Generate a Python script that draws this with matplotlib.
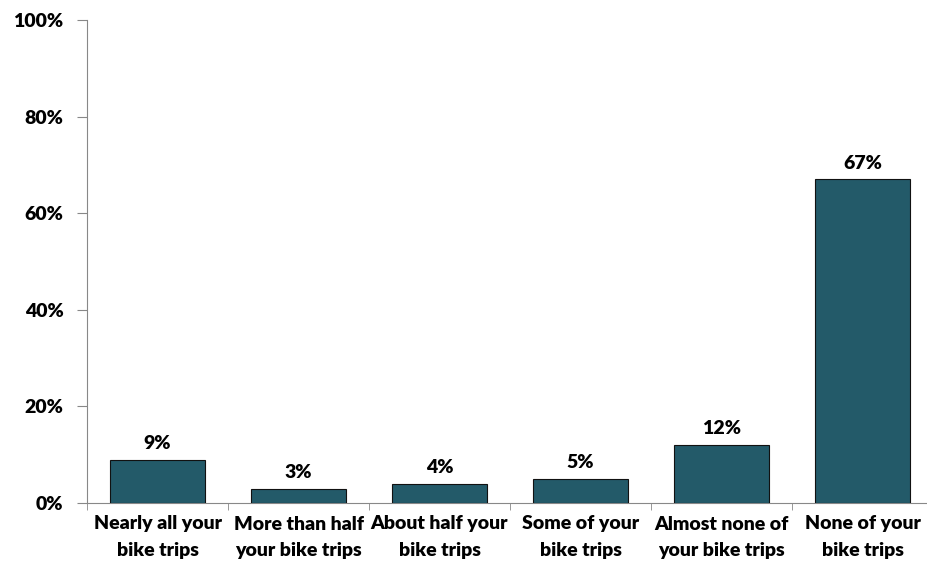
import numpy as np
import matplotlib.pyplot as plt
from matplotlib.ticker import FuncFormatter

categories = ["Nearly all your\nbike trips", "More than half\nyour bike trips",
              "About half your\nbike trips", "Some of your\nbike trips",
              "Almost none of\nyour bike trips", "None of your\nbike trips"]
values = [9, 3, 4, 5, 12, 67]
yticks = [0, 20, 40, 60, 80, 100]

plt.rcParams['font.family'] = ['Lato', 'DejaVu Sans']
plt.rcParams['font.weight'] = 'heavy'

W, H = 927, 571
fig = plt.figure(figsize=(W / 100, H / 100), dpi=100)
# axes spans past the right edge, like the original
ax = fig.add_axes([87 / W, (H - 503) / H, (933 - 87) / W, (503 - 20) / H])

x = np.arange(len(values))
ax.bar(x, values, width=0.67, color="#235a69", edgecolor="#111111", linewidth=0.8, zorder=3)
for xi, v in zip(x, values):
    ax.text(xi, v + 1.6, f"{v}%", ha="center", va="bottom", fontsize=14, fontweight="heavy")

ax.set_xlim(-0.5, len(values) - 0.5)
ax.set_ylim(0, 100)
ax.set_yticks(yticks)
ax.yaxis.set_major_formatter(FuncFormatter(lambda v, p: f"{v:.0f}%"))
ax.set_xticks(x)
ax.set_xticklabels(categories, fontsize=14, fontweight="heavy", linespacing=1.65)
ax.set_xticks(np.arange(len(values)) - 0.5, minor=True)
ax.tick_params(axis="x", which="major", length=0, pad=9)
ax.tick_params(axis="x", which="minor", length=5, color="#888888")
ax.tick_params(axis="y", length=7, color="#888888", labelsize=14, pad=10)

for s in ["top", "right"]:
    ax.spines[s].set_visible(False)
for s in ["left", "bottom"]:
    ax.spines[s].set_color("#888888")

fig.savefig("out.png", dpi=100)
